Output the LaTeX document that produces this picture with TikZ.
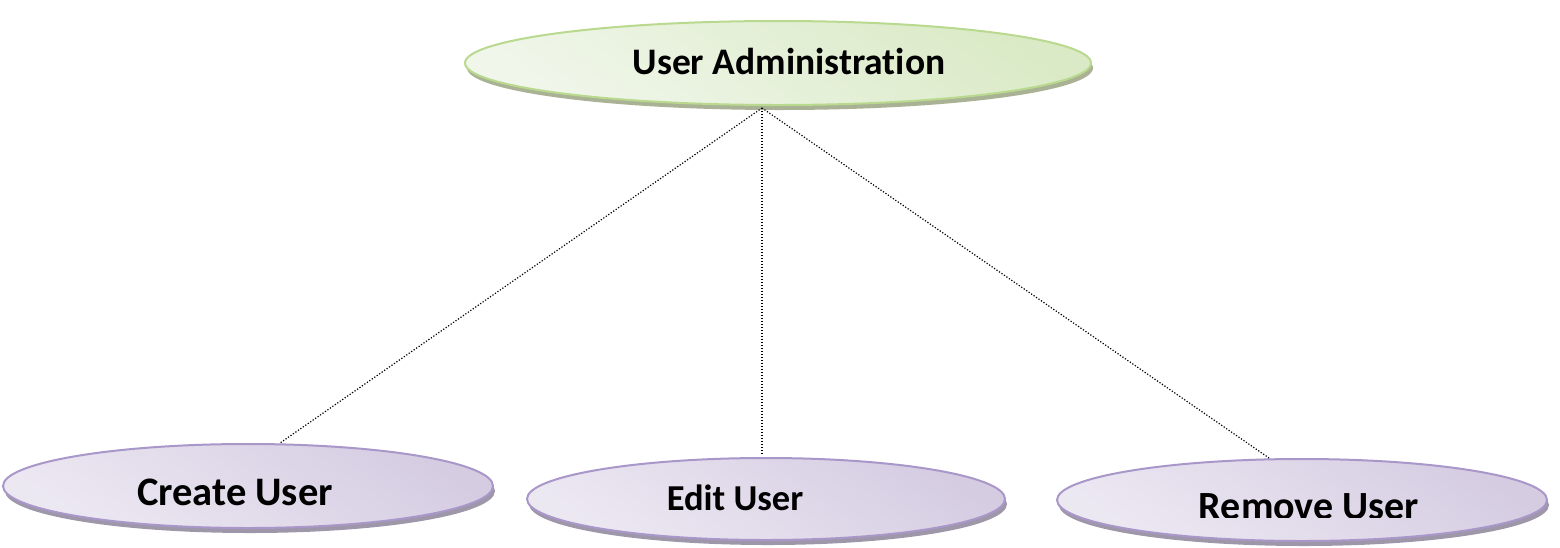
\documentclass[tikz,border=0pt]{standalone}
\usepackage{fontspec}
\setmainfont{Carlito}[Ligatures=NoCommon]
\usetikzlibrary{shapes.geometric,shadows}
\definecolor{pborder}{HTML}{A897C8}
\definecolor{pdark}{HTML}{D5CCE2}
\definecolor{plight}{HTML}{ECE8F2}
\definecolor{pshadow}{HTML}{9E97A9}
\definecolor{gborder}{HTML}{B9D98E}
\definecolor{gdark}{HTML}{DAEAC6}
\definecolor{glight}{HTML}{F0F6EA}
\definecolor{gshadow}{HTML}{A9B294}
\tikzset{
  usecase/.style={ellipse, inner sep=0pt, line width=2pt,
    drop shadow={shadow xshift=2pt, shadow yshift=-5pt, opacity=1, fill=#1shadow},
    draw=#1border, top color=#1dark, bottom color=#1light, shading angle=-35},
  lbl/.style={anchor=base, inner sep=0pt, font=\fontsize{#1}{#1}\selectfont\bfseries},
  link/.style={line width=1.2pt, dash pattern=on 1.2pt off 1.8pt, black}
}
\begin{document}
\begin{tikzpicture}[x=1pt,y=-1pt]
\useasboundingbox (0,0) rectangle (1560,547);
\node[usecase=g, minimum width=626pt, minimum height=84pt] (admin) at (778,63) {};
\node[usecase=p, minimum width=490pt, minimum height=84pt] (create) at (248,486) {};
\node[usecase=p, minimum width=478pt, minimum height=82pt] (edit) at (766,499) {};
\node[usecase=p, minimum width=490pt, minimum height=82pt] (remove) at (1302,500) {};
\node[lbl=37.5] (tadmin) at (789,74) {User Administration};
\node[lbl=40.5] (tcreate) at (235,505) {Create User};
\node[lbl=36.5] (tedit) at (735,510) {Edit User};
\begin{scope}
\clip (1100,440) rectangle (1520,517);
\node[lbl=40] (tremove) at (1309,519) {Remove User};
\end{scope}
\coordinate (hub) at (762,108);
\coordinate (ec) at (280,443);
\coordinate (ee) at (762,455);
\coordinate (er) at (1269,458);
\draw[link] (hub) -- (ec);
\draw[link] (hub) -- (ee);
\draw[link] (hub) -- (er);
\end{tikzpicture}
\end{document}
